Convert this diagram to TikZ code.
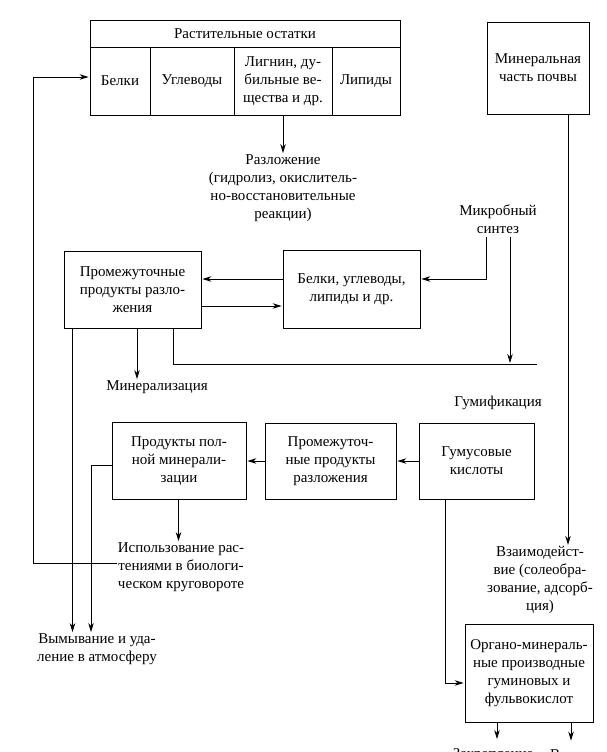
\documentclass[tikz,border=0pt]{standalone}
\usepackage{fontspec}
\setmainfont{Liberation Serif}
\usetikzlibrary{arrows.meta}

\begin{document}
\begin{tikzpicture}[
            x = 1pt, y = -1pt,
            > = {Stealth[length=9pt, width=5.5pt]}, % arrow head style
            shorten > = 1pt, % don't touch arrow head to node
            thick, % line style
            txt/.style = {align = center, inner sep = 0pt,
                font = \fontsize{15}{18}\selectfont},
            box/.style = {txt, draw = black, thick}
        ]
    \useasboundingbox (0,0) rectangle (607,752);

    % Define the nodes and their positions
    \node[box, minimum width = 310, minimum height = 27] (plant) at (245,33.5) {Растительные остатки};
    \node[box, minimum width = 60, minimum height = 68] (protA) at (120,81) {Белки};
    \node[box, minimum width = 84, minimum height = 68] (carbA) at (192,81) {Углеводы};
    \node[box, minimum width = 98, minimum height = 68] (lign) at (283,81) {Лигнин, ду-\\бильные ве-\\щества и др.};
    \node[box, minimum width = 68, minimum height = 68] (lipid) at (366,81) {Липиды};
    \node[box, minimum width = 102, minimum height = 92] (mineral) at (538,68) {Минеральная\\часть почвы};

    \node[txt] (decomp) at (283,188) {Разложение\\(гидролиз, окислитель-\\но-восстановительные\\реакции)};
    \node[txt] (micro) at (498,219) {Микробный\\синтез};
    \node[box, minimum width = 137, minimum height = 78] (proteins) at (351.5,289) {Белки, углеводы,\\липиды и др.};
    \node[box, minimum width = 137, minimum height = 77] (inter) at (132.5,290) {Промежуточные\\продукты разло-\\жения};
    \node[txt] (minz) at (157,387) {Минерализация};
    \node[txt] (humif) at (498,403) {Гумификация};
    \coordinate (hend) at (538,364);

    \node[box, minimum width = 115, minimum height = 76] (humic) at (476.5,461) {Гумусовые\\кислоты};
    \node[box, minimum width = 131, minimum height = 76] (inter2) at (330.5,461) {Промежуточ-\\ные продукты\\разложения};
    \node[box, minimum width = 134, minimum height = 77] (full) at (179,461) {Продукты пол-\\ной минерали-\\зации};
    \node[txt] (use) at (181,567) {Использование рас-\\тениями в биологи-\\ческом круговороте};
    \coordinate (back) at (33,77);
    \node[txt] (leach) at (97,649) {Вымывание и уда-\\ление в атмосферу};
    \node[txt] (interact) at (540,580) {Взаимодейст-\\вие (солеобра-\\зование, адсорб-\\ция)};
    \node[box, minimum width = 128, minimum height = 98] (organo) at (529,673) {Органо-минераль-\\ные производные\\гуминовых и\\фульвокислот};
    \node[txt] (fix) at (493,755) {Закрепление};
    \node[txt] (wash) at (588,755) {Вымывание};

    % Draw edges between nodes
    \draw[->] (lign.south) -- (decomp.north);
    \draw[->] ([yshift=10pt]proteins.west) -- ([yshift=10pt]proteins.west -| inter.east);
    \draw[->] ([yshift=-16pt]inter.east) -- ([yshift=-16pt]inter.east -| proteins.west);
    \draw[->] ([xshift=-12pt, yshift=-3pt]micro.south) |- ([yshift=10pt]proteins.east);
    \draw ([xshift=40.5pt]inter.south) |- (hend);
    \draw[->] ([xshift=12pt, yshift=-3pt]micro.south) -- ([xshift=12pt]micro.south |- hend);
    \draw[->] ([xshift=4.5pt]inter.south) -- ([xshift=4.5pt]inter.south |- minz.north);
    \draw[->] ([xshift=-60pt]inter.south) -- ([xshift=-60pt]inter.south |- leach.north);
    \draw[->] ([yshift=-4pt]full.west) -| ([xshift=-6pt]leach.north);
    \draw[->] ([xshift=-0.5pt]full.south) -- ([xshift=-0.5pt]full.south |- use.north);
    \draw[->] ([yshift=4pt]use.west) -| (back) -- (back -| protA.west);
    \draw[->] (humic.west) -- (inter2.east);
    \draw[->] (inter2.west) -- (full.east);
    \draw[->] ([xshift=30pt]mineral.south) -- ([xshift=30pt]mineral.south |- interact.north);
    \draw[->] ([xshift=-31.5pt]humic.south) |- ([yshift=-10pt]organo.west);
    \draw[->, shorten > = 9pt] ([xshift=-32pt]organo.south) -- ([xshift=-32pt]organo.south |- fix.north);
    \draw[->, shorten > = 9pt] ([xshift=42pt]organo.south) -- ([xshift=42pt]organo.south |- wash.north);
\end{tikzpicture}
\end{document}
